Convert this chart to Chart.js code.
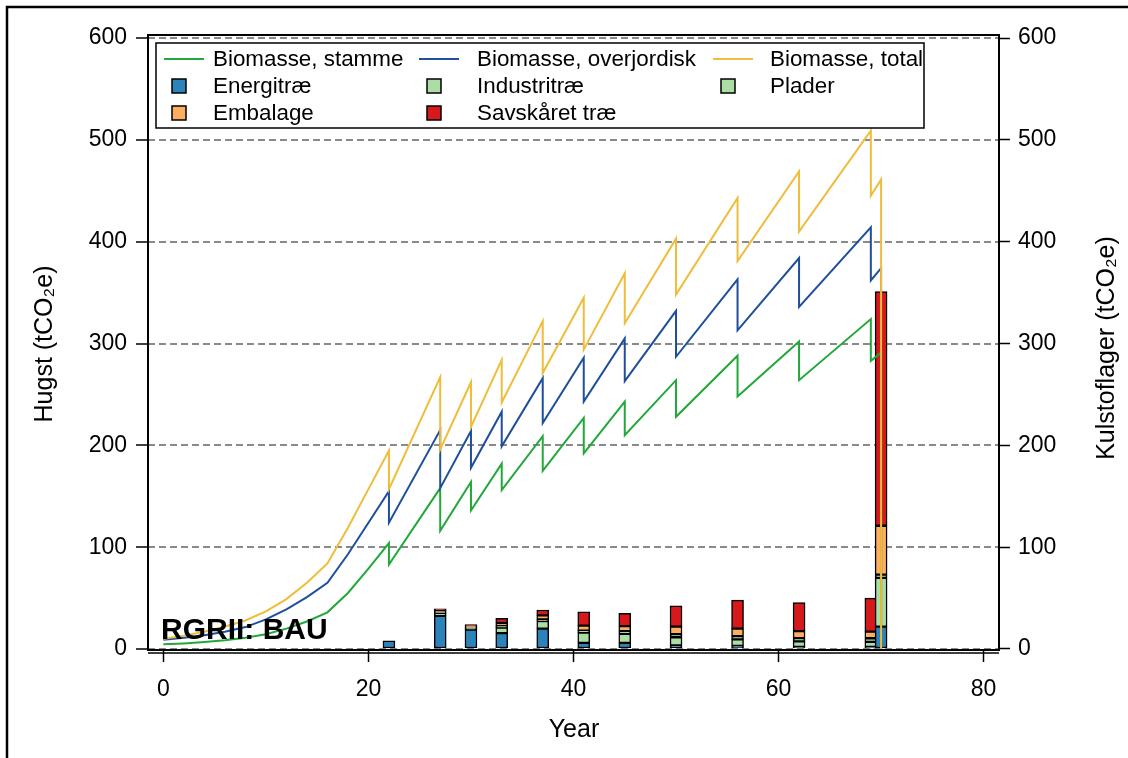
<!DOCTYPE html>
<html>
<head>
<meta charset="utf-8">
<title>RGRII: BAU</title>
<script src="https://cdn.jsdelivr.net/npm/chart.js@4.4.1/dist/chart.umd.min.js"></script>
<style>
  html, body { margin: 0; padding: 0; background: #fff; }
  #wrap { width: 1128px; height: 758px; }
</style>
</head>
<body>
<div id="wrap"><canvas id="hugstChart" width="1128" height="758"></canvas></div>
<script>
// carbon stock lines (tCO2e), duplicated years give the drop at each harvest
const lineYears = [0, 2, 4, 6, 8, 10, 12, 14, 16, 18, 20, 22, 22, 27, 27, 30, 30, 33, 33, 37, 37,
                   41, 41, 45, 45, 50, 50, 56, 56, 62, 62, 69, 69, 70, 70];
const biomasseStamme = [4.6, 5.5, 6.8, 8.5, 11, 14.5, 20, 27, 36, 55, 79, 104, 83, 158, 116, 164, 136, 182, 156, 209, 175,
                        227, 192, 243, 210, 264, 228, 288, 248, 302, 264, 324, 283, 291, 0];
const biomasseOverjordisk = [9, 11, 13.5, 17, 21.5, 29, 39, 51, 65, 93, 124, 155, 124, 215, 158, 214, 178, 233, 199, 266, 222,
                             286, 243, 305, 263, 332, 287, 363, 313, 384, 336, 414, 362, 374, 0];
const biomasseTotal = [10, 13, 17, 22, 28, 37, 49, 65, 84, 119, 157, 195, 157, 267, 196, 262, 218, 284, 242, 322, 271,
                       345, 294, 369, 320, 403, 348, 443, 381, 469, 410, 509, 445, 461, 0];

// harvest per assortment (tCO2e)
const harvestYears = [22, 27, 30, 33, 37, 41, 45, 50, 56, 62, 69, 70];
const energitrae   = [8, 32.5, 19, 15.5, 20, 6, 6, 3.5, 3, 2, 2, 22];
const industritrae = [0, 3, 1.5, 5.5, 7.5, 10, 9, 8, 6.5, 5.5, 5, 48];
const plader       = [0, 1, 1, 1.5, 1.5, 2, 2.5, 3, 3, 3, 3.5, 3];
const embalage     = [0, 1, 1, 3, 4, 5, 5, 7.5, 7.5, 7, 6.5, 48];
const savskaaret   = [0, 2, 1.5, 4.5, 5.3, 13.5, 12.5, 20.5, 28, 28, 33, 230];

const yTicks = [0, 100, 200, 300, 400, 500, 600];
const xTicks = [0, 20, 40, 60, 80];

const FONT = '"Liberation Sans", Arial, sans-serif';

function points(xs, ys) {
    return xs.map((x, i) => ({ x: x, y: ys[i] }));
}

function lineSet(label, values, color, order) {
    return {
        type: 'line', label: label, data: points(lineYears, values),
        borderColor: color, backgroundColor: color, borderWidth: 2,
        pointRadius: 0, tension: 0, yAxisID: 'y2', order: order, kind: 'line'
    };
}

function barSet(label, values, color) {
    return {
        type: 'bar', label: label, data: points(harvestYears, values),
        backgroundColor: color, borderColor: '#000', borderWidth: 1.5,
        borderSkipped: false, barThickness: 12, yAxisID: 'y', order: 10, kind: 'box'
    };
}

const datasets = [
    lineSet('Biomasse, stamme', biomasseStamme, '#22a83a', 2),
    lineSet('Biomasse, overjordisk', biomasseOverjordisk, '#1f4f9c', 1),
    lineSet('Biomasse, total', biomasseTotal, '#f0bd3a', 0),
    barSet('Energitræ', energitrae, '#2b83ba'),
    barSet('Industritræ', industritrae, '#abdda4'),
    barSet('Plader', plader, '#abdda4'),
    barSet('Embalage', embalage, '#fdae61'),
    barSet('Savskåret træ', savskaaret, '#d7191c')
];

function fixedTicks(list) {
    return function(scale) { scale.ticks = list.map(v => ({ value: v })); };
}

const tickFont = { family: FONT, size: 23 };

// frame, axis titles, legend box and scenario label
const decorations = {
    id: 'decorations',
    beforeDraw(chart) {
        const ctx = chart.ctx;
        ctx.save();
        ctx.fillStyle = '#fff';
        ctx.fillRect(0, 0, chart.width, chart.height);
        ctx.restore();
    },
    afterDraw(chart) {
        const ctx = chart.ctx;
        const a = chart.chartArea;
        ctx.save();
        ctx.strokeStyle = '#000';
        ctx.lineWidth = 2;
        ctx.strokeRect(a.left, a.top, a.right - a.left, a.bottom - a.top);
        ctx.lineWidth = 1.5;
        ctx.beginPath();
        ctx.moveTo(a.left, a.bottom + 3);
        ctx.lineTo(a.right, a.bottom + 3);
        ctx.stroke();

        // outer border
        ctx.lineWidth = 2.5;
        ctx.beginPath();
        ctx.moveTo(7, chart.height);
        ctx.lineTo(7, 7);
        ctx.lineTo(chart.width, 7);
        ctx.stroke();

        // axis titles
        ctx.fillStyle = '#000';
        ctx.font = '25px ' + FONT;
        ctx.textAlign = 'center';
        ctx.textBaseline = 'middle';
        ctx.fillText('Year', 574, 730);
        ctx.save();
        ctx.translate(45, 344);
        ctx.rotate(-Math.PI / 2);
        ctx.fillText('Hugst (tCO₂e)', 0, 0);
        ctx.restore();
        ctx.save();
        ctx.translate(1107, 348);
        ctx.rotate(-Math.PI / 2);
        ctx.fillText('Kulstoflager (tCO₂e)', 0, 0);
        ctx.restore();

        // legend
        ctx.fillStyle = '#fff';
        ctx.fillRect(156, 43, 768, 85);
        ctx.lineWidth = 1.5;
        ctx.strokeStyle = '#000';
        ctx.strokeRect(156, 43, 768, 85);
        const colX = [164, 419, 713];
        const textX = [213, 477, 770];
        const rowY = [59, 86, 113];
        chart.data.datasets.forEach((ds, i) => {
            const cx = colX[i % 3];
            const cy = rowY[Math.floor(i / 3)];
            if (ds.kind === 'line') {
                ctx.strokeStyle = ds.borderColor;
                ctx.lineWidth = 2;
                ctx.beginPath();
                ctx.moveTo(cx, cy);
                ctx.lineTo(cx + 40, cy);
                ctx.stroke();
            } else {
                ctx.fillStyle = ds.backgroundColor;
                ctx.fillRect(cx + 8, cy - 7, 14, 14);
                ctx.strokeStyle = '#000';
                ctx.lineWidth = 1.5;
                ctx.strokeRect(cx + 8, cy - 7, 14, 14);
            }
            ctx.fillStyle = '#000';
            ctx.font = '22.4px ' + FONT;
            ctx.textAlign = 'left';
            ctx.textBaseline = 'middle';
            ctx.fillText(ds.label, textX[i % 3], cy + 1);
        });

        // scenario label
        ctx.fillStyle = '#000';
        ctx.font = 'bold 30px ' + FONT;
        ctx.textAlign = 'left';
        ctx.textBaseline = 'alphabetic';
        ctx.fillText('RGRII: BAU', 161, 639);
        ctx.restore();
    }
};

const ctx = document.getElementById('hugstChart').getContext('2d');
new Chart(ctx, {
    data: { datasets: datasets },
    options: {
        responsive: false,
        animation: false,
        layout: { padding: { top: 35, left: 0, right: 0, bottom: 0 } },
        plugins: { legend: { display: false }, tooltip: { enabled: false } },
        scales: {
            x: {
                type: 'linear', position: 'bottom', min: -1.5, max: 81.5, stacked: true, offset: false,
                afterBuildTicks: fixedTicks(xTicks),
                afterFit(scale) { scale.height = 108; },
                grid: { offset: false, drawOnChartArea: false, tickLength: 12, tickColor: '#000', tickWidth: 1.5 },
                border: { display: false },
                ticks: { font: tickFont, color: '#000', padding: 14, maxRotation: 0 }
            },
            y: {
                type: 'linear', position: 'left', min: -1, max: 603, stacked: true,
                afterBuildTicks: fixedTicks(yTicks),
                afterFit(scale) { scale.width = 148; },
                grid: { color: '#8a8a8a', lineWidth: 2, tickLength: 12, tickColor: '#000', tickWidth: 1.5 },
                border: { display: false, dash: [7, 4] },
                ticks: { font: tickFont, color: '#000', padding: 9 }
            },
            y2: {
                type: 'linear', position: 'right', min: -1, max: 603,
                afterBuildTicks: fixedTicks(yTicks),
                afterFit(scale) { scale.width = 129; },
                grid: { drawOnChartArea: false, tickLength: 11, tickColor: '#000', tickWidth: 1.5 },
                border: { display: false },
                ticks: { font: tickFont, color: '#000', padding: 8 }
            }
        }
    },
    plugins: [decorations]
});
</script>
</body>
</html>
